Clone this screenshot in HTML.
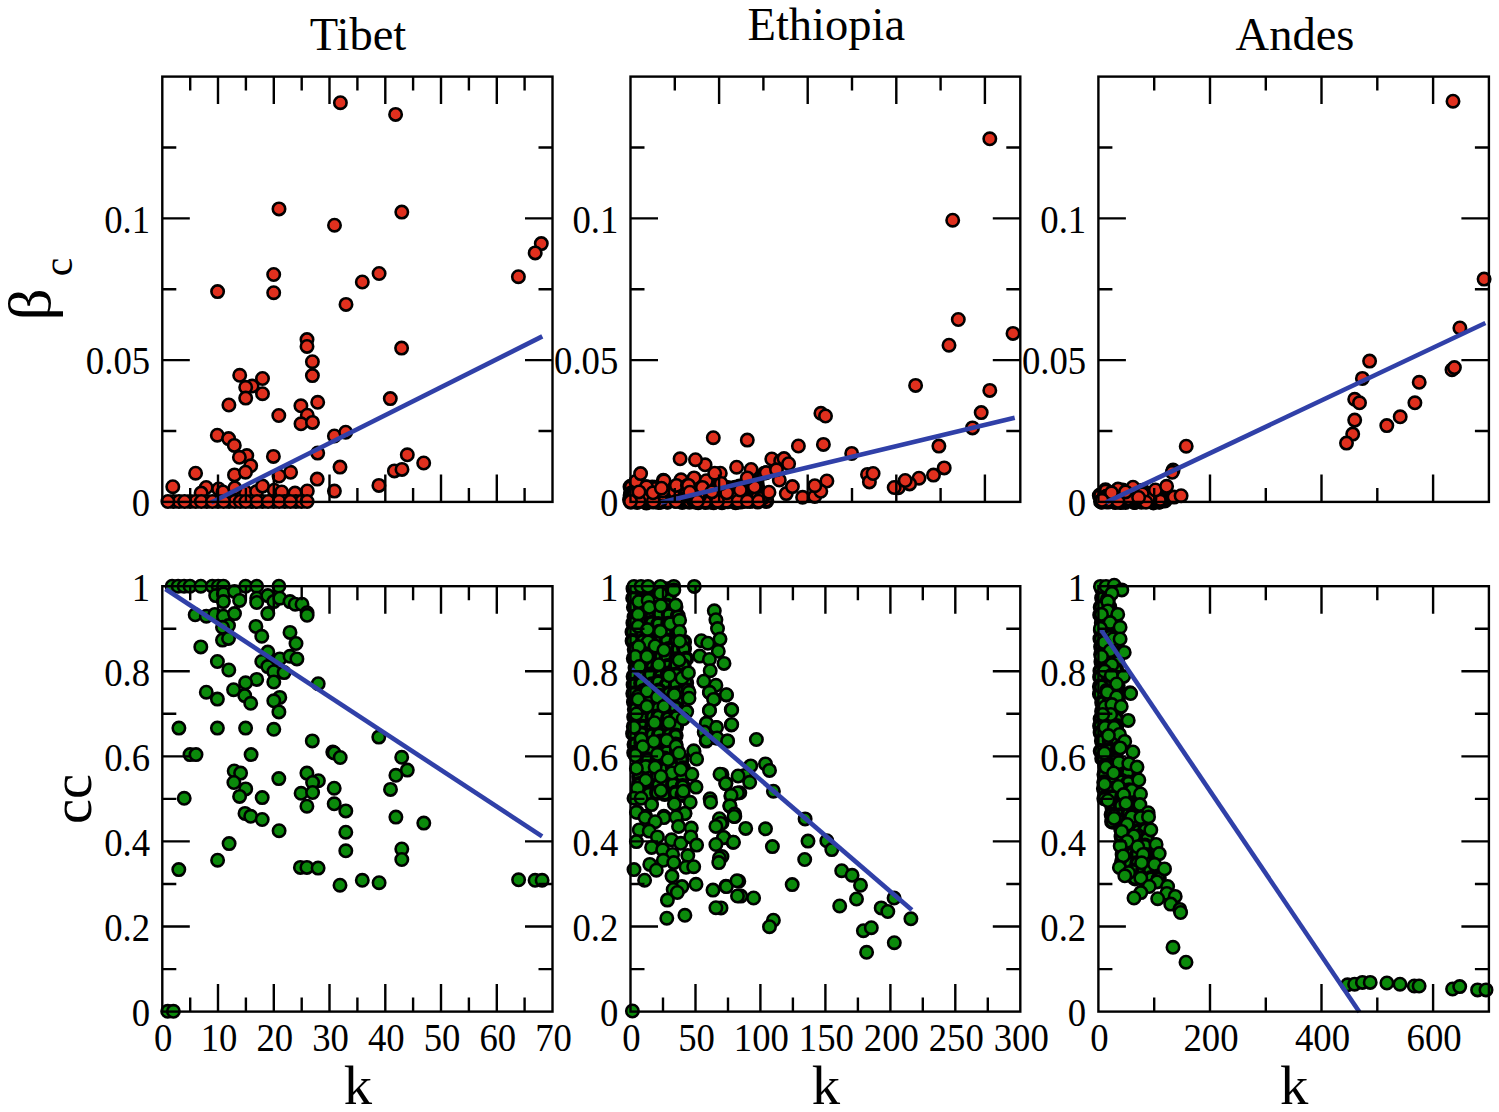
<!DOCTYPE html>
<html><head><meta charset="utf-8"><title>Figure</title>
<style>html,body{margin:0;padding:0;background:#fff;}svg{display:block;}
text{font-family:"Liberation Serif", serif;}</style></head>
<body><svg width="1499" height="1112" viewBox="0 0 1499 1112">
<rect width="100%" height="100%" fill="#fff"/>
<g fill="#e0301e" stroke="#000" stroke-width="2.6"><circle cx="340.4" cy="102.7" r="6.2"/><circle cx="395.6" cy="114.4" r="6.2"/><circle cx="279.0" cy="208.9" r="6.2"/><circle cx="401.8" cy="212.1" r="6.2"/><circle cx="334.5" cy="225.2" r="6.2"/><circle cx="541.3" cy="243.6" r="6.2"/><circle cx="535.2" cy="252.9" r="6.2"/><circle cx="518.4" cy="276.7" r="6.2"/><circle cx="379.1" cy="273.5" r="6.2"/><circle cx="362.3" cy="282.0" r="6.2"/><circle cx="273.7" cy="274.5" r="6.2"/><circle cx="273.7" cy="292.7" r="6.2"/><circle cx="217.6" cy="291.6" r="6.2"/><circle cx="346.0" cy="304.4" r="6.2"/><circle cx="307.0" cy="339.6" r="6.2"/><circle cx="307.0" cy="346.4" r="6.2"/><circle cx="312.4" cy="361.7" r="6.2"/><circle cx="312.4" cy="375.6" r="6.2"/><circle cx="401.6" cy="348.1" r="6.2"/><circle cx="239.7" cy="375.3" r="6.2"/><circle cx="252.1" cy="386.1" r="6.2"/><circle cx="262.5" cy="378.5" r="6.2"/><circle cx="245.7" cy="387.3" r="6.2"/><circle cx="262.5" cy="393.7" r="6.2"/><circle cx="245.7" cy="398.1" r="6.2"/><circle cx="228.9" cy="405.0" r="6.2"/><circle cx="390.3" cy="398.6" r="6.2"/><circle cx="317.7" cy="402.3" r="6.2"/><circle cx="300.9" cy="405.8" r="6.2"/><circle cx="278.8" cy="415.5" r="6.2"/><circle cx="307.3" cy="415.2" r="6.2"/><circle cx="301.0" cy="423.8" r="6.2"/><circle cx="312.5" cy="422.4" r="6.2"/><circle cx="217.3" cy="435.2" r="6.2"/><circle cx="228.6" cy="438.6" r="6.2"/><circle cx="234.3" cy="445.4" r="6.2"/><circle cx="246.8" cy="455.6" r="6.2"/><circle cx="239.4" cy="457.3" r="6.2"/><circle cx="250.7" cy="465.8" r="6.2"/><circle cx="273.4" cy="456.4" r="6.2"/><circle cx="317.7" cy="453.1" r="6.2"/><circle cx="334.4" cy="436.0" r="6.2"/><circle cx="345.7" cy="432.2" r="6.2"/><circle cx="340.0" cy="467.1" r="6.2"/><circle cx="195.6" cy="473.2" r="6.2"/><circle cx="234.5" cy="474.9" r="6.2"/><circle cx="245.5" cy="472.2" r="6.2"/><circle cx="290.6" cy="472.3" r="6.2"/><circle cx="279.0" cy="476.0" r="6.2"/><circle cx="317.2" cy="479.1" r="6.2"/><circle cx="378.9" cy="485.4" r="6.2"/><circle cx="394.4" cy="470.9" r="6.2"/><circle cx="402.0" cy="469.4" r="6.2"/><circle cx="407.3" cy="454.8" r="6.2"/><circle cx="423.7" cy="463.0" r="6.2"/><circle cx="334.4" cy="491.1" r="6.2"/><circle cx="172.8" cy="486.7" r="6.2"/><circle cx="206.2" cy="487.5" r="6.2"/><circle cx="201.1" cy="493.1" r="6.2"/><circle cx="218.6" cy="489.0" r="6.2"/><circle cx="223.0" cy="492.0" r="6.2"/><circle cx="245.4" cy="492.0" r="6.2"/><circle cx="256.6" cy="491.5" r="6.2"/><circle cx="262.5" cy="486.1" r="6.2"/><circle cx="274.2" cy="490.2" r="6.2"/><circle cx="281.7" cy="492.0" r="6.2"/><circle cx="295.0" cy="493.1" r="6.2"/><circle cx="307.3" cy="491.0" r="6.2"/><circle cx="234.8" cy="488.0" r="6.2"/><circle cx="173.4" cy="501.5" r="6.2"/><circle cx="179.0" cy="501.5" r="6.2"/><circle cx="190.1" cy="501.5" r="6.2"/><circle cx="195.7" cy="501.5" r="6.2"/><circle cx="206.8" cy="501.5" r="6.2"/><circle cx="218.0" cy="501.5" r="6.2"/><circle cx="229.1" cy="501.5" r="6.2"/><circle cx="234.7" cy="501.5" r="6.2"/><circle cx="240.3" cy="501.5" r="6.2"/><circle cx="251.4" cy="501.5" r="6.2"/><circle cx="262.5" cy="501.5" r="6.2"/><circle cx="273.7" cy="501.5" r="6.2"/><circle cx="284.8" cy="501.5" r="6.2"/><circle cx="295.9" cy="501.5" r="6.2"/><circle cx="301.5" cy="501.5" r="6.2"/><circle cx="167.9" cy="501.5" r="6.2"/><circle cx="184.6" cy="501.5" r="6.2"/><circle cx="201.3" cy="501.5" r="6.2"/><circle cx="212.4" cy="501.5" r="6.2"/><circle cx="223.6" cy="501.5" r="6.2"/><circle cx="245.8" cy="501.5" r="6.2"/><circle cx="257.0" cy="501.5" r="6.2"/><circle cx="268.1" cy="501.5" r="6.2"/><circle cx="279.2" cy="501.5" r="6.2"/><circle cx="290.4" cy="501.5" r="6.2"/><circle cx="307.1" cy="501.5" r="6.2"/></g>
<g fill="#e0301e" stroke="#000" stroke-width="4.0"><circle cx="630.5" cy="486.8" r="6.0"/><circle cx="639.0" cy="486.6" r="6.0"/><circle cx="646.1" cy="487.2" r="6.0"/><circle cx="652.2" cy="487.5" r="6.0"/><circle cx="659.6" cy="487.4" r="6.0"/><circle cx="667.2" cy="486.7" r="6.0"/><circle cx="675.8" cy="488.2" r="6.0"/><circle cx="682.4" cy="486.9" r="6.0"/><circle cx="691.4" cy="488.4" r="6.0"/><circle cx="698.7" cy="487.3" r="6.0"/><circle cx="707.4" cy="486.6" r="6.0"/><circle cx="714.6" cy="487.1" r="6.0"/><circle cx="719.9" cy="486.7" r="6.0"/><circle cx="727.9" cy="488.1" r="6.0"/><circle cx="735.0" cy="487.7" r="6.0"/><circle cx="743.9" cy="487.2" r="6.0"/><circle cx="631.1" cy="493.6" r="6.0"/><circle cx="637.2" cy="493.9" r="6.0"/><circle cx="646.5" cy="494.4" r="6.0"/><circle cx="652.9" cy="494.7" r="6.0"/><circle cx="660.9" cy="494.1" r="6.0"/><circle cx="669.4" cy="494.9" r="6.0"/><circle cx="675.2" cy="494.6" r="6.0"/><circle cx="683.6" cy="495.3" r="6.0"/><circle cx="691.7" cy="494.1" r="6.0"/><circle cx="699.9" cy="493.7" r="6.0"/><circle cx="705.8" cy="495.0" r="6.0"/><circle cx="712.5" cy="494.5" r="6.0"/><circle cx="719.6" cy="494.8" r="6.0"/><circle cx="729.3" cy="494.6" r="6.0"/><circle cx="737.1" cy="494.1" r="6.0"/><circle cx="744.1" cy="494.7" r="6.0"/><circle cx="751.2" cy="494.4" r="6.0"/><circle cx="759.5" cy="495.4" r="6.0"/><circle cx="630.9" cy="501.8" r="6.0"/><circle cx="637.2" cy="501.9" r="6.0"/><circle cx="646.4" cy="502.5" r="6.0"/><circle cx="654.5" cy="501.1" r="6.0"/><circle cx="660.7" cy="501.8" r="6.0"/><circle cx="667.1" cy="501.4" r="6.0"/><circle cx="675.0" cy="500.7" r="6.0"/><circle cx="682.2" cy="502.0" r="6.0"/><circle cx="689.9" cy="501.0" r="6.0"/><circle cx="698.2" cy="502.2" r="6.0"/><circle cx="704.7" cy="501.4" r="6.0"/><circle cx="713.6" cy="502.3" r="6.0"/><circle cx="722.0" cy="502.2" r="6.0"/><circle cx="727.8" cy="501.3" r="6.0"/><circle cx="735.6" cy="502.3" r="6.0"/><circle cx="744.9" cy="500.8" r="6.0"/><circle cx="750.0" cy="501.0" r="6.0"/><circle cx="757.7" cy="501.5" r="6.0"/><circle cx="766.3" cy="501.0" r="6.0"/><circle cx="630.6" cy="495.3" r="6.0"/><circle cx="706.5" cy="498.3" r="6.0"/><circle cx="758.7" cy="498.5" r="6.0"/><circle cx="713.4" cy="493.0" r="6.0"/><circle cx="721.3" cy="485.8" r="6.0"/><circle cx="735.3" cy="496.3" r="6.0"/><circle cx="748.1" cy="499.6" r="6.0"/><circle cx="683.9" cy="494.4" r="6.0"/><circle cx="644.0" cy="500.1" r="6.0"/><circle cx="639.1" cy="499.9" r="6.0"/><circle cx="658.2" cy="498.2" r="6.0"/><circle cx="637.1" cy="495.8" r="6.0"/><circle cx="630.0" cy="499.8" r="6.0"/><circle cx="679.1" cy="499.0" r="6.0"/><circle cx="633.4" cy="494.2" r="6.0"/><circle cx="650.1" cy="494.2" r="6.0"/><circle cx="664.1" cy="497.6" r="6.0"/><circle cx="646.6" cy="495.8" r="6.0"/><circle cx="744.6" cy="493.0" r="6.0"/><circle cx="695.3" cy="501.6" r="6.0"/><circle cx="641.6" cy="496.1" r="6.0"/><circle cx="665.7" cy="497.6" r="6.0"/><circle cx="741.9" cy="501.1" r="6.0"/><circle cx="758.4" cy="500.5" r="6.0"/><circle cx="701.3" cy="495.9" r="6.0"/><circle cx="633.7" cy="494.0" r="6.0"/><circle cx="701.3" cy="486.2" r="6.0"/><circle cx="724.0" cy="499.9" r="6.0"/><circle cx="665.3" cy="498.8" r="6.0"/><circle cx="734.2" cy="498.4" r="6.0"/><circle cx="701.9" cy="500.7" r="6.0"/><circle cx="660.1" cy="495.0" r="6.0"/><circle cx="739.6" cy="486.4" r="6.0"/><circle cx="738.8" cy="500.5" r="6.0"/><circle cx="740.5" cy="501.6" r="6.0"/><circle cx="699.9" cy="496.3" r="6.0"/><circle cx="678.0" cy="500.1" r="6.0"/><circle cx="667.7" cy="501.7" r="6.0"/><circle cx="665.0" cy="494.9" r="6.0"/><circle cx="690.4" cy="483.3" r="6.0"/><circle cx="756.5" cy="482.1" r="6.0"/><circle cx="679.2" cy="500.5" r="6.0"/><circle cx="659.8" cy="501.2" r="6.0"/><circle cx="657.6" cy="496.8" r="6.0"/><circle cx="714.2" cy="489.6" r="6.0"/><circle cx="694.7" cy="493.0" r="6.0"/><circle cx="718.2" cy="501.0" r="6.0"/><circle cx="719.2" cy="498.8" r="6.0"/><circle cx="752.8" cy="499.3" r="6.0"/><circle cx="694.5" cy="488.9" r="6.0"/><circle cx="654.1" cy="500.2" r="6.0"/><circle cx="738.1" cy="495.0" r="6.0"/><circle cx="761.2" cy="495.6" r="6.0"/><circle cx="757.8" cy="497.1" r="6.0"/><circle cx="727.8" cy="500.0" r="6.0"/><circle cx="650.4" cy="498.3" r="6.0"/><circle cx="752.2" cy="500.4" r="6.0"/><circle cx="741.6" cy="497.8" r="6.0"/><circle cx="762.3" cy="497.9" r="6.0"/><circle cx="704.1" cy="495.8" r="6.0"/><circle cx="647.7" cy="488.5" r="6.0"/><circle cx="701.1" cy="500.1" r="6.0"/><circle cx="756.0" cy="487.2" r="6.0"/><circle cx="741.5" cy="495.4" r="6.0"/><circle cx="658.5" cy="501.9" r="6.0"/><circle cx="662.5" cy="495.3" r="6.0"/><circle cx="709.2" cy="501.5" r="6.0"/><circle cx="647.7" cy="493.7" r="6.0"/><circle cx="752.9" cy="496.6" r="6.0"/><circle cx="708.8" cy="495.0" r="6.0"/><circle cx="752.1" cy="486.3" r="6.0"/><circle cx="697.7" cy="493.4" r="6.0"/><circle cx="701.8" cy="500.5" r="6.0"/><circle cx="689.4" cy="501.8" r="6.0"/><circle cx="654.7" cy="487.7" r="6.0"/><circle cx="653.3" cy="501.6" r="6.0"/><circle cx="693.9" cy="500.4" r="6.0"/><circle cx="674.0" cy="491.9" r="6.0"/><circle cx="700.0" cy="488.8" r="6.0"/><circle cx="644.3" cy="497.2" r="6.0"/><circle cx="705.6" cy="501.9" r="6.0"/><circle cx="734.3" cy="495.6" r="6.0"/><circle cx="698.5" cy="489.5" r="6.0"/><circle cx="753.2" cy="496.9" r="6.0"/><circle cx="689.8" cy="494.8" r="6.0"/><circle cx="699.1" cy="495.8" r="6.0"/><circle cx="723.5" cy="492.6" r="6.0"/><circle cx="694.5" cy="499.1" r="6.0"/><circle cx="757.1" cy="496.9" r="6.0"/><circle cx="757.2" cy="486.5" r="6.0"/></g>
<g fill="#e0301e" stroke="#000" stroke-width="2.6"><circle cx="771.8" cy="459.0" r="6.2"/><circle cx="653.2" cy="501.2" r="6.2"/><circle cx="726.3" cy="501.2" r="6.2"/><circle cx="694.1" cy="477.9" r="6.2"/><circle cx="635.8" cy="481.4" r="6.2"/><circle cx="676.0" cy="501.5" r="6.2"/><circle cx="702.5" cy="487.2" r="6.2"/><circle cx="826.9" cy="481.0" r="6.2"/><circle cx="681.0" cy="479.8" r="6.2"/><circle cx="760.6" cy="498.7" r="6.2"/><circle cx="717.5" cy="501.2" r="6.2"/><circle cx="690.4" cy="492.8" r="6.2"/><circle cx="639.1" cy="501.2" r="6.2"/><circle cx="680.1" cy="458.8" r="6.2"/><circle cx="738.0" cy="501.2" r="6.2"/><circle cx="663.3" cy="480.2" r="6.2"/><circle cx="676.4" cy="485.4" r="6.2"/><circle cx="662.8" cy="491.0" r="6.2"/><circle cx="736.6" cy="467.2" r="6.2"/><circle cx="764.2" cy="473.2" r="6.2"/><circle cx="755.0" cy="486.6" r="6.2"/><circle cx="664.0" cy="480.8" r="6.2"/><circle cx="726.8" cy="492.8" r="6.2"/><circle cx="720.3" cy="473.2" r="6.2"/><circle cx="779.3" cy="480.0" r="6.2"/><circle cx="706.3" cy="480.7" r="6.2"/><circle cx="646.5" cy="486.8" r="6.2"/><circle cx="687.4" cy="485.6" r="6.2"/><circle cx="754.4" cy="486.8" r="6.2"/><circle cx="688.5" cy="485.4" r="6.2"/><circle cx="802.6" cy="497.3" r="6.2"/><circle cx="740.3" cy="490.0" r="6.2"/><circle cx="780.7" cy="460.9" r="6.2"/><circle cx="702.4" cy="487.4" r="6.2"/><circle cx="639.0" cy="491.9" r="6.2"/><circle cx="689.8" cy="492.2" r="6.2"/><circle cx="769.0" cy="492.2" r="6.2"/><circle cx="721.2" cy="483.5" r="6.2"/><circle cx="786.3" cy="493.6" r="6.2"/><circle cx="814.8" cy="496.4" r="6.2"/><circle cx="784.0" cy="458.6" r="6.2"/><circle cx="788.6" cy="463.7" r="6.2"/><circle cx="747.3" cy="501.2" r="6.2"/><circle cx="705.1" cy="464.8" r="6.2"/><circle cx="640.6" cy="473.6" r="6.2"/><circle cx="714.7" cy="473.2" r="6.2"/><circle cx="758.6" cy="501.2" r="6.2"/><circle cx="751.1" cy="469.5" r="6.2"/><circle cx="653.0" cy="492.8" r="6.2"/><circle cx="711.9" cy="491.9" r="6.2"/><circle cx="792.4" cy="486.6" r="6.2"/><circle cx="766.2" cy="472.6" r="6.2"/><circle cx="630.5" cy="501.5" r="6.2"/><circle cx="747.3" cy="477.9" r="6.2"/><circle cx="661.4" cy="488.2" r="6.2"/><circle cx="776.5" cy="469.8" r="6.2"/><circle cx="820.8" cy="491.3" r="6.2"/><circle cx="814.8" cy="485.7" r="6.2"/><circle cx="695.5" cy="459.7" r="6.2"/><circle cx="697.4" cy="501.2" r="6.2"/><circle cx="989.8" cy="138.8" r="6.2"/><circle cx="952.7" cy="220.2" r="6.2"/><circle cx="958.3" cy="319.5" r="6.2"/><circle cx="1013.0" cy="333.4" r="6.2"/><circle cx="949.0" cy="345.2" r="6.2"/><circle cx="915.6" cy="385.4" r="6.2"/><circle cx="989.8" cy="390.4" r="6.2"/><circle cx="820.9" cy="413.3" r="6.2"/><circle cx="825.5" cy="416.0" r="6.2"/><circle cx="981.2" cy="412.6" r="6.2"/><circle cx="972.5" cy="427.9" r="6.2"/><circle cx="938.9" cy="446.1" r="6.2"/><circle cx="944.2" cy="467.9" r="6.2"/><circle cx="933.5" cy="475.1" r="6.2"/><circle cx="919.0" cy="478.2" r="6.2"/><circle cx="898.3" cy="487.7" r="6.2"/><circle cx="909.6" cy="483.9" r="6.2"/><circle cx="905.2" cy="480.5" r="6.2"/><circle cx="798.4" cy="446.0" r="6.2"/><circle cx="823.4" cy="444.4" r="6.2"/><circle cx="851.7" cy="453.4" r="6.2"/><circle cx="867.5" cy="474.4" r="6.2"/><circle cx="869.4" cy="481.9" r="6.2"/><circle cx="873.1" cy="473.5" r="6.2"/><circle cx="894.2" cy="487.5" r="6.2"/><circle cx="713.3" cy="437.7" r="6.2"/><circle cx="747.3" cy="440.1" r="6.2"/></g>
<g fill="#e0301e" stroke="#000" stroke-width="4.0"><circle cx="1099.8" cy="495.6" r="6.0"/><circle cx="1106.4" cy="495.2" r="6.0"/><circle cx="1113.7" cy="494.6" r="6.0"/><circle cx="1120.9" cy="494.2" r="6.0"/><circle cx="1128.4" cy="495.7" r="6.0"/><circle cx="1132.5" cy="495.8" r="6.0"/><circle cx="1140.9" cy="495.2" r="6.0"/><circle cx="1147.3" cy="495.4" r="6.0"/><circle cx="1153.0" cy="494.6" r="6.0"/><circle cx="1159.9" cy="494.3" r="6.0"/><circle cx="1167.0" cy="495.4" r="6.0"/><circle cx="1101.0" cy="501.4" r="6.0"/><circle cx="1108.1" cy="501.5" r="6.0"/><circle cx="1115.2" cy="502.0" r="6.0"/><circle cx="1120.7" cy="502.1" r="6.0"/><circle cx="1125.5" cy="501.9" r="6.0"/><circle cx="1134.4" cy="501.9" r="6.0"/><circle cx="1141.4" cy="501.8" r="6.0"/><circle cx="1145.3" cy="500.6" r="6.0"/><circle cx="1153.4" cy="502.4" r="6.0"/><circle cx="1159.1" cy="501.4" r="6.0"/><circle cx="1164.7" cy="500.5" r="6.0"/><circle cx="1135.0" cy="501.8" r="6.0"/><circle cx="1130.2" cy="497.3" r="6.0"/><circle cx="1105.5" cy="490.3" r="6.0"/><circle cx="1106.9" cy="496.7" r="6.0"/><circle cx="1134.7" cy="501.8" r="6.0"/><circle cx="1152.8" cy="495.2" r="6.0"/><circle cx="1155.2" cy="501.0" r="6.0"/><circle cx="1115.8" cy="492.0" r="6.0"/><circle cx="1142.6" cy="490.8" r="6.0"/><circle cx="1105.9" cy="499.1" r="6.0"/><circle cx="1159.3" cy="501.6" r="6.0"/><circle cx="1141.5" cy="500.2" r="6.0"/><circle cx="1113.7" cy="497.6" r="6.0"/><circle cx="1142.7" cy="498.8" r="6.0"/><circle cx="1145.3" cy="499.7" r="6.0"/><circle cx="1131.9" cy="499.8" r="6.0"/><circle cx="1132.1" cy="499.3" r="6.0"/><circle cx="1114.9" cy="501.5" r="6.0"/><circle cx="1132.3" cy="500.7" r="6.0"/><circle cx="1130.8" cy="497.2" r="6.0"/><circle cx="1150.1" cy="494.4" r="6.0"/><circle cx="1120.9" cy="501.7" r="6.0"/><circle cx="1106.5" cy="497.1" r="6.0"/><circle cx="1105.9" cy="501.2" r="6.0"/><circle cx="1133.4" cy="489.1" r="6.0"/><circle cx="1159.7" cy="501.4" r="6.0"/><circle cx="1160.6" cy="499.7" r="6.0"/><circle cx="1148.8" cy="500.8" r="6.0"/><circle cx="1117.8" cy="496.8" r="6.0"/><circle cx="1141.4" cy="495.7" r="6.0"/><circle cx="1118.9" cy="497.7" r="6.0"/><circle cx="1132.9" cy="498.3" r="6.0"/><circle cx="1157.1" cy="499.2" r="6.0"/><circle cx="1161.8" cy="499.8" r="6.0"/><circle cx="1144.6" cy="494.0" r="6.0"/><circle cx="1127.6" cy="496.6" r="6.0"/><circle cx="1125.1" cy="498.1" r="6.0"/><circle cx="1121.8" cy="498.3" r="6.0"/><circle cx="1122.6" cy="490.6" r="6.0"/><circle cx="1113.5" cy="493.5" r="6.0"/><circle cx="1101.8" cy="501.7" r="6.0"/><circle cx="1105.2" cy="497.4" r="6.0"/><circle cx="1126.0" cy="500.4" r="6.0"/><circle cx="1160.2" cy="500.3" r="6.0"/><circle cx="1149.4" cy="499.0" r="6.0"/></g>
<g fill="#e0301e" stroke="#000" stroke-width="2.6"><circle cx="1133.0" cy="487.2" r="6.2"/><circle cx="1149.8" cy="497.1" r="6.2"/><circle cx="1155.4" cy="490.0" r="6.2"/><circle cx="1118.0" cy="489.1" r="6.2"/><circle cx="1174.1" cy="497.1" r="6.2"/><circle cx="1128.3" cy="498.5" r="6.2"/><circle cx="1142.3" cy="493.8" r="6.2"/><circle cx="1181.1" cy="495.7" r="6.2"/><circle cx="1107.7" cy="500.3" r="6.2"/><circle cx="1146.0" cy="502.2" r="6.2"/><circle cx="1138.6" cy="497.5" r="6.2"/><circle cx="1118.0" cy="501.3" r="6.2"/><circle cx="1125.5" cy="491.9" r="6.2"/><circle cx="1166.6" cy="486.3" r="6.2"/><circle cx="1111.5" cy="492.8" r="6.2"/><circle cx="1102.0" cy="500.3" r="6.2"/><circle cx="1453.0" cy="101.2" r="6.2"/><circle cx="1484.1" cy="279.1" r="6.2"/><circle cx="1459.9" cy="328.0" r="6.2"/><circle cx="1369.6" cy="361.1" r="6.2"/><circle cx="1362.4" cy="378.4" r="6.2"/><circle cx="1452.0" cy="369.8" r="6.2"/><circle cx="1454.4" cy="367.6" r="6.2"/><circle cx="1419.2" cy="382.3" r="6.2"/><circle cx="1354.7" cy="399.3" r="6.2"/><circle cx="1359.5" cy="402.8" r="6.2"/><circle cx="1414.9" cy="402.8" r="6.2"/><circle cx="1400.2" cy="416.8" r="6.2"/><circle cx="1386.8" cy="425.6" r="6.2"/><circle cx="1354.7" cy="420.1" r="6.2"/><circle cx="1352.7" cy="434.1" r="6.2"/><circle cx="1346.5" cy="443.1" r="6.2"/><circle cx="1186.2" cy="446.2" r="6.2"/><circle cx="1173.1" cy="470.0" r="6.2"/><circle cx="1172.2" cy="472.3" r="6.2"/></g>
<g fill="#0b8a0b" stroke="#000" stroke-width="2.6"><circle cx="172.1" cy="586.2" r="6.2"/><circle cx="178.1" cy="586.2" r="6.2"/><circle cx="184.1" cy="586.2" r="6.2"/><circle cx="190.0" cy="586.2" r="6.2"/><circle cx="200.8" cy="586.2" r="6.2"/><circle cx="212.3" cy="586.2" r="6.2"/><circle cx="218.2" cy="586.2" r="6.2"/><circle cx="223.4" cy="586.2" r="6.2"/><circle cx="245.6" cy="586.2" r="6.2"/><circle cx="256.7" cy="586.2" r="6.2"/><circle cx="278.9" cy="586.2" r="6.2"/><circle cx="215.7" cy="595.6" r="6.2"/><circle cx="223.4" cy="593.9" r="6.2"/><circle cx="223.4" cy="601.6" r="6.2"/><circle cx="234.5" cy="591.4" r="6.2"/><circle cx="239.6" cy="600.4" r="6.2"/><circle cx="256.7" cy="598.2" r="6.2"/><circle cx="256.7" cy="602.5" r="6.2"/><circle cx="267.8" cy="595.6" r="6.2"/><circle cx="273.8" cy="601.6" r="6.2"/><circle cx="279.8" cy="598.2" r="6.2"/><circle cx="290.0" cy="601.6" r="6.2"/><circle cx="295.2" cy="604.2" r="6.2"/><circle cx="302.0" cy="604.2" r="6.2"/><circle cx="307.1" cy="612.7" r="6.2"/><circle cx="307.1" cy="615.3" r="6.2"/><circle cx="195.2" cy="614.8" r="6.2"/><circle cx="206.3" cy="616.2" r="6.2"/><circle cx="214.8" cy="614.4" r="6.2"/><circle cx="223.4" cy="616.2" r="6.2"/><circle cx="234.5" cy="613.6" r="6.2"/><circle cx="267.8" cy="613.6" r="6.2"/><circle cx="228.5" cy="625.6" r="6.2"/><circle cx="222.5" cy="627.3" r="6.2"/><circle cx="255.9" cy="626.4" r="6.2"/><circle cx="261.8" cy="636.3" r="6.2"/><circle cx="290.0" cy="632.4" r="6.2"/><circle cx="296.0" cy="643.5" r="6.2"/><circle cx="222.5" cy="640.1" r="6.2"/><circle cx="228.5" cy="638.4" r="6.2"/><circle cx="200.8" cy="646.9" r="6.2"/><circle cx="217.4" cy="661.5" r="6.2"/><circle cx="228.8" cy="670.0" r="6.2"/><circle cx="267.8" cy="652.1" r="6.2"/><circle cx="261.8" cy="661.5" r="6.2"/><circle cx="279.8" cy="658.9" r="6.2"/><circle cx="290.0" cy="656.3" r="6.2"/><circle cx="296.9" cy="658.9" r="6.2"/><circle cx="267.8" cy="666.6" r="6.2"/><circle cx="273.8" cy="671.7" r="6.2"/><circle cx="284.1" cy="672.6" r="6.2"/><circle cx="273.8" cy="682.0" r="6.2"/><circle cx="256.7" cy="679.4" r="6.2"/><circle cx="245.6" cy="682.8" r="6.2"/><circle cx="233.6" cy="689.7" r="6.2"/><circle cx="244.7" cy="695.6" r="6.2"/><circle cx="250.7" cy="703.3" r="6.2"/><circle cx="206.3" cy="692.2" r="6.2"/><circle cx="217.4" cy="699.1" r="6.2"/><circle cx="279.8" cy="697.4" r="6.2"/><circle cx="273.8" cy="700.8" r="6.2"/><circle cx="278.9" cy="711.9" r="6.2"/><circle cx="318.2" cy="683.7" r="6.2"/><circle cx="178.9" cy="728.1" r="6.2"/><circle cx="217.4" cy="728.1" r="6.2"/><circle cx="245.6" cy="728.1" r="6.2"/><circle cx="273.8" cy="729.3" r="6.2"/><circle cx="312.3" cy="740.9" r="6.2"/><circle cx="332.8" cy="752.1" r="6.2"/><circle cx="334.2" cy="753.0" r="6.2"/><circle cx="340.2" cy="757.5" r="6.2"/><circle cx="190.0" cy="754.6" r="6.2"/><circle cx="196.0" cy="754.6" r="6.2"/><circle cx="251.1" cy="754.6" r="6.2"/><circle cx="378.8" cy="737.1" r="6.2"/><circle cx="401.7" cy="757.3" r="6.2"/><circle cx="407.3" cy="770.1" r="6.2"/><circle cx="395.9" cy="775.3" r="6.2"/><circle cx="390.5" cy="789.4" r="6.2"/><circle cx="234.2" cy="771.0" r="6.2"/><circle cx="240.6" cy="773.1" r="6.2"/><circle cx="233.9" cy="782.5" r="6.2"/><circle cx="245.7" cy="788.9" r="6.2"/><circle cx="239.6" cy="796.4" r="6.2"/><circle cx="278.8" cy="778.6" r="6.2"/><circle cx="262.2" cy="797.6" r="6.2"/><circle cx="306.9" cy="773.1" r="6.2"/><circle cx="318.4" cy="780.7" r="6.2"/><circle cx="312.6" cy="782.5" r="6.2"/><circle cx="301.1" cy="793.3" r="6.2"/><circle cx="312.6" cy="792.5" r="6.2"/><circle cx="306.9" cy="806.2" r="6.2"/><circle cx="334.2" cy="788.2" r="6.2"/><circle cx="334.2" cy="803.8" r="6.2"/><circle cx="345.8" cy="810.9" r="6.2"/><circle cx="184.2" cy="798.3" r="6.2"/><circle cx="245.0" cy="813.4" r="6.2"/><circle cx="250.7" cy="816.3" r="6.2"/><circle cx="262.2" cy="819.5" r="6.2"/><circle cx="279.1" cy="830.7" r="6.2"/><circle cx="229.1" cy="843.6" r="6.2"/><circle cx="217.6" cy="860.2" r="6.2"/><circle cx="178.8" cy="869.6" r="6.2"/><circle cx="300.4" cy="867.4" r="6.2"/><circle cx="306.9" cy="867.4" r="6.2"/><circle cx="318.1" cy="868.1" r="6.2"/><circle cx="345.8" cy="832.2" r="6.2"/><circle cx="345.8" cy="850.8" r="6.2"/><circle cx="340.0" cy="885.2" r="6.2"/><circle cx="395.9" cy="817.1" r="6.2"/><circle cx="423.8" cy="823.1" r="6.2"/><circle cx="401.8" cy="849.0" r="6.2"/><circle cx="401.8" cy="859.5" r="6.2"/><circle cx="362.3" cy="880.3" r="6.2"/><circle cx="379.1" cy="882.7" r="6.2"/><circle cx="518.6" cy="879.8" r="6.2"/><circle cx="535.1" cy="880.3" r="6.2"/><circle cx="542.1" cy="880.3" r="6.2"/><circle cx="167.7" cy="1011.3" r="6.2"/><circle cx="173.4" cy="1011.3" r="6.2"/></g>
<g fill="#0b8a0b" stroke="#000" stroke-width="4.0"><circle cx="633.5" cy="588.7" r="6.0"/><circle cx="641.8" cy="591.4" r="6.0"/><circle cx="649.9" cy="590.0" r="6.0"/><circle cx="659.9" cy="591.1" r="6.0"/><circle cx="667.1" cy="589.3" r="6.0"/><circle cx="633.2" cy="598.2" r="6.0"/><circle cx="642.3" cy="599.9" r="6.0"/><circle cx="652.0" cy="599.6" r="6.0"/><circle cx="658.1" cy="597.1" r="6.0"/><circle cx="668.6" cy="599.7" r="6.0"/><circle cx="633.9" cy="607.3" r="6.0"/><circle cx="641.0" cy="606.7" r="6.0"/><circle cx="652.3" cy="608.0" r="6.0"/><circle cx="660.6" cy="608.4" r="6.0"/><circle cx="667.2" cy="605.8" r="6.0"/><circle cx="675.5" cy="607.1" r="6.0"/><circle cx="634.5" cy="616.8" r="6.0"/><circle cx="643.2" cy="615.9" r="6.0"/><circle cx="651.8" cy="615.4" r="6.0"/><circle cx="659.7" cy="614.1" r="6.0"/><circle cx="668.8" cy="614.7" r="6.0"/><circle cx="677.8" cy="615.9" r="6.0"/><circle cx="633.4" cy="622.9" r="6.0"/><circle cx="641.8" cy="624.4" r="6.0"/><circle cx="651.6" cy="622.8" r="6.0"/><circle cx="658.2" cy="624.1" r="6.0"/><circle cx="668.2" cy="623.7" r="6.0"/><circle cx="675.7" cy="624.3" r="6.0"/><circle cx="632.5" cy="631.9" r="6.0"/><circle cx="642.4" cy="633.9" r="6.0"/><circle cx="651.4" cy="633.7" r="6.0"/><circle cx="659.4" cy="631.7" r="6.0"/><circle cx="667.2" cy="633.9" r="6.0"/><circle cx="677.1" cy="631.9" r="6.0"/><circle cx="632.6" cy="641.0" r="6.0"/><circle cx="643.0" cy="640.8" r="6.0"/><circle cx="650.3" cy="641.5" r="6.0"/><circle cx="660.8" cy="640.2" r="6.0"/><circle cx="666.6" cy="640.5" r="6.0"/><circle cx="676.3" cy="641.5" r="6.0"/><circle cx="684.1" cy="641.9" r="6.0"/><circle cx="634.7" cy="649.5" r="6.0"/><circle cx="641.6" cy="650.9" r="6.0"/><circle cx="650.4" cy="650.5" r="6.0"/><circle cx="658.7" cy="648.7" r="6.0"/><circle cx="668.8" cy="648.9" r="6.0"/><circle cx="677.9" cy="649.5" r="6.0"/><circle cx="684.1" cy="648.7" r="6.0"/><circle cx="633.8" cy="658.5" r="6.0"/><circle cx="643.8" cy="656.9" r="6.0"/><circle cx="650.7" cy="657.1" r="6.0"/><circle cx="660.9" cy="656.9" r="6.0"/><circle cx="666.7" cy="656.7" r="6.0"/><circle cx="676.2" cy="659.2" r="6.0"/><circle cx="686.2" cy="658.7" r="6.0"/><circle cx="635.5" cy="667.8" r="6.0"/><circle cx="642.0" cy="665.6" r="6.0"/><circle cx="652.3" cy="667.2" r="6.0"/><circle cx="658.1" cy="667.0" r="6.0"/><circle cx="667.6" cy="666.1" r="6.0"/><circle cx="676.0" cy="665.5" r="6.0"/><circle cx="683.5" cy="665.8" r="6.0"/><circle cx="633.6" cy="676.4" r="6.0"/><circle cx="641.4" cy="676.4" r="6.0"/><circle cx="650.1" cy="674.6" r="6.0"/><circle cx="660.5" cy="676.0" r="6.0"/><circle cx="667.8" cy="673.6" r="6.0"/><circle cx="676.4" cy="674.6" r="6.0"/><circle cx="686.3" cy="674.1" r="6.0"/><circle cx="633.6" cy="684.7" r="6.0"/><circle cx="641.1" cy="683.2" r="6.0"/><circle cx="651.9" cy="684.3" r="6.0"/><circle cx="658.1" cy="682.1" r="6.0"/><circle cx="666.7" cy="684.8" r="6.0"/><circle cx="675.8" cy="684.2" r="6.0"/><circle cx="686.2" cy="683.0" r="6.0"/><circle cx="633.3" cy="693.4" r="6.0"/><circle cx="642.9" cy="691.3" r="6.0"/><circle cx="651.6" cy="691.4" r="6.0"/><circle cx="658.8" cy="690.5" r="6.0"/><circle cx="668.8" cy="693.2" r="6.0"/><circle cx="676.9" cy="693.3" r="6.0"/><circle cx="683.6" cy="691.2" r="6.0"/><circle cx="633.9" cy="701.9" r="6.0"/><circle cx="643.9" cy="700.2" r="6.0"/><circle cx="650.3" cy="700.3" r="6.0"/><circle cx="659.5" cy="701.8" r="6.0"/><circle cx="667.0" cy="701.4" r="6.0"/><circle cx="677.2" cy="701.5" r="6.0"/><circle cx="634.8" cy="709.3" r="6.0"/><circle cx="642.0" cy="708.5" r="6.0"/><circle cx="650.6" cy="709.8" r="6.0"/><circle cx="658.2" cy="708.1" r="6.0"/><circle cx="668.8" cy="708.2" r="6.0"/><circle cx="675.2" cy="707.6" r="6.0"/><circle cx="634.2" cy="717.0" r="6.0"/><circle cx="643.9" cy="718.7" r="6.0"/><circle cx="652.5" cy="716.8" r="6.0"/><circle cx="658.3" cy="716.3" r="6.0"/><circle cx="668.0" cy="718.1" r="6.0"/><circle cx="676.3" cy="716.7" r="6.0"/><circle cx="633.8" cy="726.4" r="6.0"/><circle cx="643.0" cy="726.7" r="6.0"/><circle cx="652.0" cy="726.5" r="6.0"/><circle cx="658.4" cy="727.0" r="6.0"/><circle cx="667.4" cy="726.2" r="6.0"/><circle cx="676.1" cy="726.7" r="6.0"/><circle cx="633.1" cy="733.7" r="6.0"/><circle cx="641.7" cy="733.5" r="6.0"/><circle cx="652.2" cy="734.7" r="6.0"/><circle cx="659.0" cy="734.2" r="6.0"/><circle cx="669.5" cy="734.5" r="6.0"/><circle cx="675.7" cy="735.4" r="6.0"/><circle cx="634.5" cy="744.5" r="6.0"/><circle cx="641.3" cy="742.9" r="6.0"/><circle cx="652.0" cy="744.0" r="6.0"/><circle cx="660.7" cy="741.6" r="6.0"/><circle cx="667.4" cy="741.9" r="6.0"/><circle cx="675.6" cy="744.4" r="6.0"/><circle cx="634.2" cy="752.8" r="6.0"/><circle cx="642.1" cy="752.6" r="6.0"/><circle cx="650.8" cy="750.8" r="6.0"/><circle cx="660.3" cy="752.8" r="6.0"/><circle cx="666.8" cy="751.8" r="6.0"/><circle cx="676.9" cy="750.7" r="6.0"/><circle cx="639.6" cy="758.9" r="6.0"/><circle cx="647.6" cy="759.3" r="6.0"/><circle cx="657.3" cy="760.5" r="6.0"/><circle cx="664.6" cy="758.5" r="6.0"/><circle cx="673.5" cy="760.5" r="6.0"/><circle cx="681.6" cy="759.4" r="6.0"/><circle cx="639.1" cy="769.4" r="6.0"/><circle cx="648.6" cy="767.2" r="6.0"/><circle cx="655.8" cy="768.2" r="6.0"/><circle cx="665.7" cy="768.9" r="6.0"/><circle cx="672.8" cy="767.5" r="6.0"/><circle cx="683.1" cy="768.2" r="6.0"/><circle cx="639.3" cy="776.4" r="6.0"/><circle cx="649.9" cy="776.4" r="6.0"/><circle cx="657.2" cy="776.6" r="6.0"/><circle cx="665.2" cy="778.1" r="6.0"/><circle cx="675.5" cy="776.6" r="6.0"/><circle cx="681.6" cy="777.7" r="6.0"/><circle cx="639.1" cy="784.0" r="6.0"/><circle cx="649.7" cy="785.3" r="6.0"/><circle cx="658.0" cy="785.2" r="6.0"/><circle cx="666.6" cy="785.4" r="6.0"/><circle cx="673.0" cy="784.0" r="6.0"/><circle cx="682.7" cy="785.9" r="6.0"/><circle cx="641.2" cy="792.8" r="6.0"/><circle cx="648.9" cy="793.6" r="6.0"/><circle cx="657.0" cy="792.9" r="6.0"/><circle cx="664.8" cy="794.1" r="6.0"/><circle cx="675.3" cy="792.8" r="6.0"/><circle cx="682.5" cy="794.9" r="6.0"/></g>
<g fill="#0b8a0b" stroke="#000" stroke-width="2.6"><circle cx="634.0" cy="586.4" r="6.2"/><circle cx="641.0" cy="586.4" r="6.2"/><circle cx="648.0" cy="586.4" r="6.2"/><circle cx="660.4" cy="586.4" r="6.2"/><circle cx="673.8" cy="586.4" r="6.2"/><circle cx="694.3" cy="586.4" r="6.2"/><circle cx="673.8" cy="589.9" r="6.2"/><circle cx="660.4" cy="593.4" r="6.2"/><circle cx="638.7" cy="601.6" r="6.2"/><circle cx="648.1" cy="600.4" r="6.2"/><circle cx="649.2" cy="607.4" r="6.2"/><circle cx="660.9" cy="605.7" r="6.2"/><circle cx="675.6" cy="605.1" r="6.2"/><circle cx="638.1" cy="614.4" r="6.2"/><circle cx="670.3" cy="623.8" r="6.2"/><circle cx="679.6" cy="620.3" r="6.2"/><circle cx="638.1" cy="626.1" r="6.2"/><circle cx="647.5" cy="629.6" r="6.2"/><circle cx="660.4" cy="631.4" r="6.2"/><circle cx="679.6" cy="631.4" r="6.2"/><circle cx="648.1" cy="641.9" r="6.2"/><circle cx="638.7" cy="646.6" r="6.2"/><circle cx="655.1" cy="646.0" r="6.2"/><circle cx="663.9" cy="650.1" r="6.2"/><circle cx="679.6" cy="641.3" r="6.2"/><circle cx="635.2" cy="656.5" r="6.2"/><circle cx="646.9" cy="656.5" r="6.2"/><circle cx="679.1" cy="660.1" r="6.2"/><circle cx="658.6" cy="664.7" r="6.2"/><circle cx="639.3" cy="666.5" r="6.2"/><circle cx="669.1" cy="675.8" r="6.2"/><circle cx="682.0" cy="678.2" r="6.2"/><circle cx="688.4" cy="672.9" r="6.2"/><circle cx="646.3" cy="689.3" r="6.2"/><circle cx="687.8" cy="689.9" r="6.2"/><circle cx="673.8" cy="694.0" r="6.2"/><circle cx="638.1" cy="696.3" r="6.2"/><circle cx="658.6" cy="695.1" r="6.2"/><circle cx="646.9" cy="691.2" r="6.2"/><circle cx="638.1" cy="699.4" r="6.2"/><circle cx="657.4" cy="697.0" r="6.2"/><circle cx="674.4" cy="694.7" r="6.2"/><circle cx="689.0" cy="692.3" r="6.2"/><circle cx="689.0" cy="698.2" r="6.2"/><circle cx="646.9" cy="706.4" r="6.2"/><circle cx="663.9" cy="706.4" r="6.2"/><circle cx="636.4" cy="714.0" r="6.2"/><circle cx="686.7" cy="711.6" r="6.2"/><circle cx="683.2" cy="718.7" r="6.2"/><circle cx="654.5" cy="722.7" r="6.2"/><circle cx="669.1" cy="722.7" r="6.2"/><circle cx="634.0" cy="727.4" r="6.2"/><circle cx="641.1" cy="739.1" r="6.2"/><circle cx="653.9" cy="741.5" r="6.2"/><circle cx="666.8" cy="740.3" r="6.2"/><circle cx="642.8" cy="746.7" r="6.2"/><circle cx="676.1" cy="746.1" r="6.2"/><circle cx="635.2" cy="755.5" r="6.2"/><circle cx="657.4" cy="754.3" r="6.2"/><circle cx="668.0" cy="759.6" r="6.2"/><circle cx="679.1" cy="753.2" r="6.2"/><circle cx="645.7" cy="766.6" r="6.2"/><circle cx="636.4" cy="768.4" r="6.2"/><circle cx="655.1" cy="767.2" r="6.2"/><circle cx="672.0" cy="773.0" r="6.2"/><circle cx="680.8" cy="769.5" r="6.2"/><circle cx="691.9" cy="774.2" r="6.2"/><circle cx="645.7" cy="780.1" r="6.2"/><circle cx="660.9" cy="776.5" r="6.2"/><circle cx="637.5" cy="788.2" r="6.2"/><circle cx="660.9" cy="790.6" r="6.2"/><circle cx="683.2" cy="791.2" r="6.2"/><circle cx="696.0" cy="787.1" r="6.2"/><circle cx="634.0" cy="798.2" r="6.2"/><circle cx="641.1" cy="798.2" r="6.2"/><circle cx="651.6" cy="804.6" r="6.2"/><circle cx="674.4" cy="804.0" r="6.2"/><circle cx="690.2" cy="802.3" r="6.2"/><circle cx="637.5" cy="812.2" r="6.2"/><circle cx="645.7" cy="816.3" r="6.2"/><circle cx="663.9" cy="816.3" r="6.2"/><circle cx="684.9" cy="813.4" r="6.2"/><circle cx="636.4" cy="812.3" r="6.2"/><circle cx="645.1" cy="817.6" r="6.2"/><circle cx="663.9" cy="817.6" r="6.2"/><circle cx="684.9" cy="813.5" r="6.2"/><circle cx="676.1" cy="817.0" r="6.2"/><circle cx="639.3" cy="829.9" r="6.2"/><circle cx="655.1" cy="821.7" r="6.2"/><circle cx="678.5" cy="826.4" r="6.2"/><circle cx="691.3" cy="828.1" r="6.2"/><circle cx="649.2" cy="831.1" r="6.2"/><circle cx="657.4" cy="836.9" r="6.2"/><circle cx="636.4" cy="841.6" r="6.2"/><circle cx="671.5" cy="839.8" r="6.2"/><circle cx="680.8" cy="843.3" r="6.2"/><circle cx="690.8" cy="836.9" r="6.2"/><circle cx="696.6" cy="845.1" r="6.2"/><circle cx="651.6" cy="847.4" r="6.2"/><circle cx="662.7" cy="849.8" r="6.2"/><circle cx="672.6" cy="854.4" r="6.2"/><circle cx="687.8" cy="855.6" r="6.2"/><circle cx="663.3" cy="860.3" r="6.2"/><circle cx="673.8" cy="862.6" r="6.2"/><circle cx="686.1" cy="867.3" r="6.2"/><circle cx="693.7" cy="866.7" r="6.2"/><circle cx="649.8" cy="864.4" r="6.2"/><circle cx="634.0" cy="869.6" r="6.2"/><circle cx="656.3" cy="870.2" r="6.2"/><circle cx="644.6" cy="880.2" r="6.2"/><circle cx="672.0" cy="876.1" r="6.2"/><circle cx="682.0" cy="886.6" r="6.2"/><circle cx="673.2" cy="889.5" r="6.2"/><circle cx="677.3" cy="892.5" r="6.2"/><circle cx="696.0" cy="884.3" r="6.2"/><circle cx="667.4" cy="900.1" r="6.2"/><circle cx="666.8" cy="918.2" r="6.2"/><circle cx="684.9" cy="915.3" r="6.2"/><circle cx="714.3" cy="610.8" r="6.2"/><circle cx="715.9" cy="619.7" r="6.2"/><circle cx="717.5" cy="628.6" r="6.2"/><circle cx="720.0" cy="639.1" r="6.2"/><circle cx="701.3" cy="640.7" r="6.2"/><circle cx="707.8" cy="643.2" r="6.2"/><circle cx="718.3" cy="651.3" r="6.2"/><circle cx="699.7" cy="656.1" r="6.2"/><circle cx="709.4" cy="659.4" r="6.2"/><circle cx="724.0" cy="663.4" r="6.2"/><circle cx="710.2" cy="670.7" r="6.2"/><circle cx="703.8" cy="681.2" r="6.2"/><circle cx="715.9" cy="685.3" r="6.2"/><circle cx="709.4" cy="692.5" r="6.2"/><circle cx="714.3" cy="699.0" r="6.2"/><circle cx="726.4" cy="695.0" r="6.2"/><circle cx="709.4" cy="710.4" r="6.2"/><circle cx="731.3" cy="709.6" r="6.2"/><circle cx="706.2" cy="723.3" r="6.2"/><circle cx="715.9" cy="727.4" r="6.2"/><circle cx="731.3" cy="724.9" r="6.2"/><circle cx="704.6" cy="732.2" r="6.2"/><circle cx="706.2" cy="741.1" r="6.2"/><circle cx="715.9" cy="737.9" r="6.2"/><circle cx="727.2" cy="741.1" r="6.2"/><circle cx="756.4" cy="739.5" r="6.2"/><circle cx="694.0" cy="751.7" r="6.2"/><circle cx="693.7" cy="750.8" r="6.2"/><circle cx="696.6" cy="759.0" r="6.2"/><circle cx="750.7" cy="765.9" r="6.2"/><circle cx="765.5" cy="763.9" r="6.2"/><circle cx="769.5" cy="770.4" r="6.2"/><circle cx="744.7" cy="775.4" r="6.2"/><circle cx="749.7" cy="782.3" r="6.2"/><circle cx="722.0" cy="774.4" r="6.2"/><circle cx="725.9" cy="783.3" r="6.2"/><circle cx="773.4" cy="791.2" r="6.2"/><circle cx="739.8" cy="792.8" r="6.2"/><circle cx="730.9" cy="796.2" r="6.2"/><circle cx="729.9" cy="806.1" r="6.2"/><circle cx="734.8" cy="816.5" r="6.2"/><circle cx="722.0" cy="822.9" r="6.2"/><circle cx="745.7" cy="828.4" r="6.2"/><circle cx="765.5" cy="828.8" r="6.2"/><circle cx="805.1" cy="818.9" r="6.2"/><circle cx="724.0" cy="837.7" r="6.2"/><circle cx="732.9" cy="842.3" r="6.2"/><circle cx="722.0" cy="856.5" r="6.2"/><circle cx="772.4" cy="846.6" r="6.2"/><circle cx="808.0" cy="841.1" r="6.2"/><circle cx="826.8" cy="840.7" r="6.2"/><circle cx="831.8" cy="849.6" r="6.2"/><circle cx="804.7" cy="859.5" r="6.2"/><circle cx="841.7" cy="870.7" r="6.2"/><circle cx="852.1" cy="875.3" r="6.2"/><circle cx="860.5" cy="885.2" r="6.2"/><circle cx="856.5" cy="899.0" r="6.2"/><circle cx="839.7" cy="906.0" r="6.2"/><circle cx="894.1" cy="898.0" r="6.2"/><circle cx="881.2" cy="907.9" r="6.2"/><circle cx="887.8" cy="911.5" r="6.2"/><circle cx="910.9" cy="918.8" r="6.2"/><circle cx="725.9" cy="886.2" r="6.2"/><circle cx="738.8" cy="881.2" r="6.2"/><circle cx="740.8" cy="896.1" r="6.2"/><circle cx="753.6" cy="898.0" r="6.2"/><circle cx="792.2" cy="884.6" r="6.2"/><circle cx="773.4" cy="920.2" r="6.2"/><circle cx="769.5" cy="926.7" r="6.2"/><circle cx="863.4" cy="930.7" r="6.2"/><circle cx="871.3" cy="927.7" r="6.2"/><circle cx="894.3" cy="942.7" r="6.2"/><circle cx="866.6" cy="952.3" r="6.2"/><circle cx="721.0" cy="907.9" r="6.2"/><circle cx="720.0" cy="774.2" r="6.2"/><circle cx="725.8" cy="783.6" r="6.2"/><circle cx="738.1" cy="776.0" r="6.2"/><circle cx="737.5" cy="792.9" r="6.2"/><circle cx="731.1" cy="795.3" r="6.2"/><circle cx="710.1" cy="798.8" r="6.2"/><circle cx="710.6" cy="802.3" r="6.2"/><circle cx="729.9" cy="805.8" r="6.2"/><circle cx="734.6" cy="814.0" r="6.2"/><circle cx="719.4" cy="818.7" r="6.2"/><circle cx="720.6" cy="823.5" r="6.2"/><circle cx="715.9" cy="826.4" r="6.2"/><circle cx="723.5" cy="837.5" r="6.2"/><circle cx="733.5" cy="842.2" r="6.2"/><circle cx="715.9" cy="844.5" r="6.2"/><circle cx="719.4" cy="858.0" r="6.2"/><circle cx="718.8" cy="862.6" r="6.2"/><circle cx="734.0" cy="816.4" r="6.2"/><circle cx="713.0" cy="890.1" r="6.2"/><circle cx="726.4" cy="886.6" r="6.2"/><circle cx="737.0" cy="880.8" r="6.2"/><circle cx="737.5" cy="896.0" r="6.2"/><circle cx="715.9" cy="907.7" r="6.2"/><circle cx="709.5" cy="692.3" r="6.2"/><circle cx="713.6" cy="699.4" r="6.2"/><circle cx="726.4" cy="694.7" r="6.2"/><circle cx="709.5" cy="710.5" r="6.2"/><circle cx="731.7" cy="709.9" r="6.2"/><circle cx="706.5" cy="723.3" r="6.2"/><circle cx="716.5" cy="727.4" r="6.2"/><circle cx="731.7" cy="724.5" r="6.2"/><circle cx="704.2" cy="732.1" r="6.2"/><circle cx="706.5" cy="740.3" r="6.2"/><circle cx="717.1" cy="738.0" r="6.2"/><circle cx="727.6" cy="740.9" r="6.2"/><circle cx="632.4" cy="1011.0" r="6.2"/></g>
<g fill="#0b8a0b" stroke="#000" stroke-width="4.0"><circle cx="1102.1" cy="589.1" r="6.0"/><circle cx="1108.1" cy="591.3" r="6.0"/><circle cx="1102.1" cy="597.9" r="6.0"/><circle cx="1107.9" cy="599.3" r="6.0"/><circle cx="1100.7" cy="607.2" r="6.0"/><circle cx="1109.3" cy="607.0" r="6.0"/><circle cx="1100.2" cy="614.9" r="6.0"/><circle cx="1108.3" cy="613.7" r="6.0"/><circle cx="1101.8" cy="623.0" r="6.0"/><circle cx="1108.2" cy="621.2" r="6.0"/><circle cx="1100.8" cy="630.1" r="6.0"/><circle cx="1108.7" cy="628.9" r="6.0"/><circle cx="1100.4" cy="638.7" r="6.0"/><circle cx="1110.0" cy="636.6" r="6.0"/><circle cx="1101.1" cy="646.8" r="6.0"/><circle cx="1107.9" cy="647.0" r="6.0"/><circle cx="1116.1" cy="646.3" r="6.0"/><circle cx="1101.1" cy="654.4" r="6.0"/><circle cx="1108.5" cy="653.8" r="6.0"/><circle cx="1117.2" cy="653.8" r="6.0"/><circle cx="1101.4" cy="661.8" r="6.0"/><circle cx="1108.9" cy="660.6" r="6.0"/><circle cx="1117.3" cy="662.0" r="6.0"/><circle cx="1100.4" cy="670.8" r="6.0"/><circle cx="1109.7" cy="669.9" r="6.0"/><circle cx="1116.2" cy="669.9" r="6.0"/><circle cx="1100.1" cy="676.9" r="6.0"/><circle cx="1108.8" cy="676.8" r="6.0"/><circle cx="1116.9" cy="678.0" r="6.0"/><circle cx="1099.9" cy="686.4" r="6.0"/><circle cx="1108.0" cy="686.7" r="6.0"/><circle cx="1117.7" cy="686.0" r="6.0"/><circle cx="1099.9" cy="694.0" r="6.0"/><circle cx="1108.7" cy="695.4" r="6.0"/><circle cx="1116.1" cy="695.1" r="6.0"/><circle cx="1102.2" cy="702.7" r="6.0"/><circle cx="1109.8" cy="701.1" r="6.0"/><circle cx="1118.2" cy="702.0" r="6.0"/><circle cx="1102.1" cy="711.2" r="6.0"/><circle cx="1108.2" cy="710.9" r="6.0"/><circle cx="1118.0" cy="708.7" r="6.0"/><circle cx="1100.6" cy="718.8" r="6.0"/><circle cx="1108.2" cy="719.2" r="6.0"/><circle cx="1116.5" cy="718.9" r="6.0"/><circle cx="1100.1" cy="726.0" r="6.0"/><circle cx="1110.0" cy="725.1" r="6.0"/><circle cx="1116.4" cy="726.0" r="6.0"/><circle cx="1100.6" cy="732.6" r="6.0"/><circle cx="1108.2" cy="733.0" r="6.0"/><circle cx="1118.0" cy="734.5" r="6.0"/><circle cx="1101.9" cy="741.0" r="6.0"/><circle cx="1109.7" cy="740.8" r="6.0"/><circle cx="1117.1" cy="742.4" r="6.0"/><circle cx="1100.7" cy="751.1" r="6.0"/><circle cx="1109.1" cy="750.2" r="6.0"/><circle cx="1117.9" cy="748.8" r="6.0"/><circle cx="1102.2" cy="758.4" r="6.0"/><circle cx="1108.7" cy="758.9" r="6.0"/><circle cx="1116.4" cy="759.5" r="6.0"/><circle cx="1105.2" cy="765.6" r="6.0"/><circle cx="1113.6" cy="765.8" r="6.0"/><circle cx="1120.2" cy="766.7" r="6.0"/><circle cx="1127.9" cy="767.0" r="6.0"/><circle cx="1104.4" cy="774.4" r="6.0"/><circle cx="1114.2" cy="774.3" r="6.0"/><circle cx="1121.4" cy="773.4" r="6.0"/><circle cx="1127.8" cy="772.6" r="6.0"/><circle cx="1104.2" cy="782.3" r="6.0"/><circle cx="1112.8" cy="782.0" r="6.0"/><circle cx="1121.9" cy="780.9" r="6.0"/><circle cx="1128.3" cy="782.5" r="6.0"/><circle cx="1103.9" cy="788.5" r="6.0"/><circle cx="1112.7" cy="788.8" r="6.0"/><circle cx="1120.7" cy="789.2" r="6.0"/><circle cx="1129.2" cy="790.3" r="6.0"/><circle cx="1104.3" cy="798.4" r="6.0"/><circle cx="1112.9" cy="796.9" r="6.0"/><circle cx="1122.0" cy="797.2" r="6.0"/><circle cx="1128.2" cy="796.8" r="6.0"/><circle cx="1112.3" cy="807.1" r="6.0"/><circle cx="1120.7" cy="805.7" r="6.0"/><circle cx="1127.4" cy="804.5" r="6.0"/><circle cx="1136.3" cy="806.2" r="6.0"/><circle cx="1111.6" cy="814.4" r="6.0"/><circle cx="1119.9" cy="815.3" r="6.0"/><circle cx="1128.6" cy="813.2" r="6.0"/><circle cx="1137.0" cy="812.6" r="6.0"/><circle cx="1112.1" cy="821.7" r="6.0"/><circle cx="1119.4" cy="820.7" r="6.0"/><circle cx="1128.7" cy="820.5" r="6.0"/><circle cx="1136.1" cy="823.3" r="6.0"/><circle cx="1121.1" cy="829.1" r="6.0"/><circle cx="1130.3" cy="830.0" r="6.0"/><circle cx="1138.3" cy="830.9" r="6.0"/><circle cx="1145.2" cy="829.4" r="6.0"/><circle cx="1121.5" cy="836.6" r="6.0"/><circle cx="1130.9" cy="838.8" r="6.0"/><circle cx="1138.5" cy="836.5" r="6.0"/><circle cx="1146.8" cy="838.7" r="6.0"/><circle cx="1121.9" cy="846.7" r="6.0"/><circle cx="1129.9" cy="845.2" r="6.0"/><circle cx="1137.1" cy="845.2" r="6.0"/><circle cx="1144.9" cy="845.5" r="6.0"/><circle cx="1122.6" cy="854.6" r="6.0"/><circle cx="1130.8" cy="854.6" r="6.0"/><circle cx="1137.4" cy="854.2" r="6.0"/><circle cx="1145.8" cy="854.9" r="6.0"/><circle cx="1122.1" cy="861.3" r="6.0"/><circle cx="1130.3" cy="863.4" r="6.0"/><circle cx="1137.3" cy="863.1" r="6.0"/><circle cx="1144.8" cy="861.3" r="6.0"/><circle cx="1133.4" cy="870.7" r="6.0"/><circle cx="1143.1" cy="870.7" r="6.0"/><circle cx="1149.6" cy="871.1" r="6.0"/><circle cx="1157.6" cy="869.2" r="6.0"/><circle cx="1135.0" cy="878.4" r="6.0"/><circle cx="1142.5" cy="878.5" r="6.0"/><circle cx="1151.1" cy="877.9" r="6.0"/><circle cx="1158.8" cy="878.6" r="6.0"/></g>
<g fill="#0b8a0b" stroke="#000" stroke-width="2.6"><circle cx="1100.4" cy="586.4" r="6.2"/><circle cx="1106.0" cy="586.4" r="6.2"/><circle cx="1114.2" cy="585.2" r="6.2"/><circle cx="1121.8" cy="589.9" r="6.2"/><circle cx="1111.9" cy="593.4" r="6.2"/><circle cx="1107.8" cy="601.6" r="6.2"/><circle cx="1107.8" cy="610.9" r="6.2"/><circle cx="1117.7" cy="614.4" r="6.2"/><circle cx="1101.5" cy="614.4" r="6.2"/><circle cx="1110.1" cy="622.6" r="6.2"/><circle cx="1120.1" cy="627.3" r="6.2"/><circle cx="1100.4" cy="628.4" r="6.2"/><circle cx="1113.1" cy="639.0" r="6.2"/><circle cx="1103.9" cy="642.5" r="6.2"/><circle cx="1120.1" cy="639.0" r="6.2"/><circle cx="1110.1" cy="650.7" r="6.2"/><circle cx="1124.2" cy="652.4" r="6.2"/><circle cx="1101.5" cy="656.5" r="6.2"/><circle cx="1111.9" cy="664.7" r="6.2"/><circle cx="1104.5" cy="671.1" r="6.2"/><circle cx="1123.6" cy="676.4" r="6.2"/><circle cx="1111.3" cy="675.2" r="6.2"/><circle cx="1116.6" cy="684.0" r="6.2"/><circle cx="1101.5" cy="686.9" r="6.2"/><circle cx="1106.6" cy="690.4" r="6.2"/><circle cx="1130.0" cy="692.7" r="6.2"/><circle cx="1117.1" cy="696.2" r="6.2"/><circle cx="1107.2" cy="692.3" r="6.2"/><circle cx="1116.6" cy="697.0" r="6.2"/><circle cx="1130.6" cy="693.5" r="6.2"/><circle cx="1105.0" cy="707.0" r="6.2"/><circle cx="1111.9" cy="704.6" r="6.2"/><circle cx="1121.2" cy="706.4" r="6.2"/><circle cx="1110.7" cy="714.5" r="6.2"/><circle cx="1102.7" cy="714.5" r="6.2"/><circle cx="1128.2" cy="720.4" r="6.2"/><circle cx="1105.0" cy="727.4" r="6.2"/><circle cx="1114.2" cy="727.4" r="6.2"/><circle cx="1119.5" cy="734.4" r="6.2"/><circle cx="1108.4" cy="735.6" r="6.2"/><circle cx="1124.7" cy="741.4" r="6.2"/><circle cx="1120.1" cy="747.9" r="6.2"/><circle cx="1104.5" cy="753.1" r="6.2"/><circle cx="1132.9" cy="752.0" r="6.2"/><circle cx="1118.9" cy="762.5" r="6.2"/><circle cx="1128.8" cy="763.6" r="6.2"/><circle cx="1137.0" cy="767.1" r="6.2"/><circle cx="1106.0" cy="767.1" r="6.2"/><circle cx="1113.6" cy="773.0" r="6.2"/><circle cx="1138.8" cy="780.0" r="6.2"/><circle cx="1104.5" cy="784.1" r="6.2"/><circle cx="1118.3" cy="786.4" r="6.2"/><circle cx="1131.8" cy="790.5" r="6.2"/><circle cx="1123.6" cy="794.6" r="6.2"/><circle cx="1140.5" cy="794.0" r="6.2"/><circle cx="1107.8" cy="800.5" r="6.2"/><circle cx="1125.9" cy="803.4" r="6.2"/><circle cx="1139.9" cy="804.6" r="6.2"/><circle cx="1114.2" cy="816.2" r="6.2"/><circle cx="1131.8" cy="815.7" r="6.2"/><circle cx="1143.4" cy="816.2" r="6.2"/><circle cx="1148.1" cy="812.7" r="6.2"/><circle cx="1114.1" cy="818.4" r="6.2"/><circle cx="1131.6" cy="816.9" r="6.2"/><circle cx="1140.8" cy="817.6" r="6.2"/><circle cx="1148.5" cy="816.9" r="6.2"/><circle cx="1127.1" cy="824.5" r="6.2"/><circle cx="1150.8" cy="829.9" r="6.2"/><circle cx="1121.7" cy="831.4" r="6.2"/><circle cx="1133.9" cy="836.0" r="6.2"/><circle cx="1127.1" cy="841.4" r="6.2"/><circle cx="1156.1" cy="844.4" r="6.2"/><circle cx="1120.2" cy="845.9" r="6.2"/><circle cx="1137.8" cy="846.7" r="6.2"/><circle cx="1159.2" cy="853.6" r="6.2"/><circle cx="1123.2" cy="855.9" r="6.2"/><circle cx="1143.1" cy="854.4" r="6.2"/><circle cx="1141.6" cy="862.8" r="6.2"/><circle cx="1154.6" cy="864.3" r="6.2"/><circle cx="1164.5" cy="868.9" r="6.2"/><circle cx="1119.4" cy="867.4" r="6.2"/><circle cx="1128.6" cy="872.7" r="6.2"/><circle cx="1124.8" cy="875.8" r="6.2"/><circle cx="1140.8" cy="878.1" r="6.2"/><circle cx="1156.9" cy="881.9" r="6.2"/><circle cx="1149.2" cy="886.5" r="6.2"/><circle cx="1167.6" cy="886.5" r="6.2"/><circle cx="1140.8" cy="892.6" r="6.2"/><circle cx="1166.8" cy="893.4" r="6.2"/><circle cx="1175.2" cy="896.4" r="6.2"/><circle cx="1134.0" cy="898.0" r="6.2"/><circle cx="1157.7" cy="898.7" r="6.2"/><circle cx="1170.7" cy="904.1" r="6.2"/><circle cx="1179.8" cy="909.4" r="6.2"/><circle cx="1180.6" cy="912.5" r="6.2"/><circle cx="1173.0" cy="947.3" r="6.2"/><circle cx="1186.0" cy="962.2" r="6.2"/><circle cx="1347.5" cy="984.8" r="6.2"/><circle cx="1354.6" cy="984.2" r="6.2"/><circle cx="1362.4" cy="982.4" r="6.2"/><circle cx="1370.2" cy="982.4" r="6.2"/><circle cx="1386.9" cy="983.0" r="6.2"/><circle cx="1400.0" cy="984.2" r="6.2"/><circle cx="1414.3" cy="986.0" r="6.2"/><circle cx="1419.1" cy="986.0" r="6.2"/><circle cx="1452.6" cy="989.0" r="6.2"/><circle cx="1459.7" cy="986.6" r="6.2"/><circle cx="1477.6" cy="989.9" r="6.2"/><circle cx="1486.0" cy="989.9" r="6.2"/></g>
<g stroke="#3040a8" stroke-width="4.6" stroke-linecap="butt"><line x1="211.2" y1="502.5" x2="542.3" y2="336.4"/><line x1="661.0" y1="502.5" x2="1014.7" y2="417.8"/><line x1="1106.0" y1="502.3" x2="1485.4" y2="323.0"/><line x1="165.5" y1="589.0" x2="542.1" y2="836.4"/><line x1="631.5" y1="669.0" x2="911.9" y2="909.9"/><line x1="1100.5" y1="629.0" x2="1359.4" y2="1012.0"/></g>
<path d="M190.2 501.9V487.9M190.2 76.6V90.6M218.0 501.9V474.4M218.0 76.6V104.1M245.9 501.9V487.9M245.9 76.6V90.6M273.8 501.9V474.4M273.8 76.6V104.1M301.7 501.9V487.9M301.7 76.6V90.6M329.5 501.9V474.4M329.5 76.6V104.1M357.4 501.9V487.9M357.4 76.6V90.6M385.3 501.9V474.4M385.3 76.6V104.1M413.1 501.9V487.9M413.1 76.6V90.6M441.0 501.9V474.4M441.0 76.6V104.1M468.9 501.9V487.9M468.9 76.6V90.6M496.8 501.9V474.4M496.8 76.6V104.1M524.6 501.9V487.9M524.6 76.6V90.6M162.3 431.0H176.3M552.5 431.0H538.5M162.3 360.1H189.8M552.5 360.1H525.0M162.3 289.2H176.3M552.5 289.2H538.5M162.3 218.4H189.8M552.5 218.4H525.0M162.3 147.5H176.3M552.5 147.5H538.5" stroke="#000" stroke-width="2.4" fill="none"/><rect x="162.3" y="76.6" width="390.2" height="425.3" fill="none" stroke="#000" stroke-width="2.4"/><path d="M674.8 501.9V487.9M674.8 76.6V90.6M719.1 501.9V474.4M719.1 76.6V104.1M763.4 501.9V487.9M763.4 76.6V90.6M807.7 501.9V474.4M807.7 76.6V104.1M852.0 501.9V487.9M852.0 76.6V90.6M896.3 501.9V474.4M896.3 76.6V104.1M940.6 501.9V487.9M940.6 76.6V90.6M984.9 501.9V474.4M984.9 76.6V104.1M630.5 431.0H644.5M1020.3 431.0H1006.3M630.5 360.1H658.0M1020.3 360.1H992.8M630.5 289.2H644.5M1020.3 289.2H1006.3M630.5 218.4H658.0M1020.3 218.4H992.8M630.5 147.5H644.5M1020.3 147.5H1006.3" stroke="#000" stroke-width="2.4" fill="none"/><rect x="630.5" y="76.6" width="389.8" height="425.3" fill="none" stroke="#000" stroke-width="2.4"/><path d="M1154.2 501.9V487.9M1154.2 76.6V90.6M1210.0 501.9V474.4M1210.0 76.6V104.1M1265.8 501.9V487.9M1265.8 76.6V90.6M1321.5 501.9V474.4M1321.5 76.6V104.1M1377.3 501.9V487.9M1377.3 76.6V90.6M1433.1 501.9V474.4M1433.1 76.6V104.1M1098.4 431.0H1112.4M1488.9 431.0H1474.9M1098.4 360.1H1125.9M1488.9 360.1H1461.4M1098.4 289.2H1112.4M1488.9 289.2H1474.9M1098.4 218.4H1125.9M1488.9 218.4H1461.4M1098.4 147.5H1112.4M1488.9 147.5H1474.9" stroke="#000" stroke-width="2.4" fill="none"/><rect x="1098.4" y="76.6" width="390.5" height="425.3" fill="none" stroke="#000" stroke-width="2.4"/><path d="M190.2 1011.6V997.6M190.2 586.2V600.2M218.0 1011.6V984.1M218.0 586.2V613.7M245.9 1011.6V997.6M245.9 586.2V600.2M273.8 1011.6V984.1M273.8 586.2V613.7M301.7 1011.6V997.6M301.7 586.2V600.2M329.5 1011.6V984.1M329.5 586.2V613.7M357.4 1011.6V997.6M357.4 586.2V600.2M385.3 1011.6V984.1M385.3 586.2V613.7M413.1 1011.6V997.6M413.1 586.2V600.2M441.0 1011.6V984.1M441.0 586.2V613.7M468.9 1011.6V997.6M468.9 586.2V600.2M496.8 1011.6V984.1M496.8 586.2V613.7M524.6 1011.6V997.6M524.6 586.2V600.2M162.3 969.1H176.3M552.5 969.1H538.5M162.3 926.5H189.8M552.5 926.5H525.0M162.3 884.0H176.3M552.5 884.0H538.5M162.3 841.4H189.8M552.5 841.4H525.0M162.3 798.9H176.3M552.5 798.9H538.5M162.3 756.4H189.8M552.5 756.4H525.0M162.3 713.8H176.3M552.5 713.8H538.5M162.3 671.3H189.8M552.5 671.3H525.0M162.3 628.7H176.3M552.5 628.7H538.5" stroke="#000" stroke-width="2.4" fill="none"/><rect x="162.3" y="586.2" width="390.2" height="425.4" fill="none" stroke="#000" stroke-width="2.4"/><path d="M663.0 1011.6V997.6M663.0 586.2V600.2M695.5 1011.6V984.1M695.5 586.2V613.7M728.0 1011.6V997.6M728.0 586.2V600.2M760.4 1011.6V984.1M760.4 586.2V613.7M792.9 1011.6V997.6M792.9 586.2V600.2M825.4 1011.6V984.1M825.4 586.2V613.7M857.9 1011.6V997.6M857.9 586.2V600.2M890.4 1011.6V984.1M890.4 586.2V613.7M922.8 1011.6V997.6M922.8 586.2V600.2M955.3 1011.6V984.1M955.3 586.2V613.7M987.8 1011.6V997.6M987.8 586.2V600.2M630.5 969.1H644.5M1020.3 969.1H1006.3M630.5 926.5H658.0M1020.3 926.5H992.8M630.5 884.0H644.5M1020.3 884.0H1006.3M630.5 841.4H658.0M1020.3 841.4H992.8M630.5 798.9H644.5M1020.3 798.9H1006.3M630.5 756.4H658.0M1020.3 756.4H992.8M630.5 713.8H644.5M1020.3 713.8H1006.3M630.5 671.3H658.0M1020.3 671.3H992.8M630.5 628.7H644.5M1020.3 628.7H1006.3" stroke="#000" stroke-width="2.4" fill="none"/><rect x="630.5" y="586.2" width="389.8" height="425.4" fill="none" stroke="#000" stroke-width="2.4"/><path d="M1154.2 1011.6V997.6M1154.2 586.2V600.2M1210.0 1011.6V984.1M1210.0 586.2V613.7M1265.8 1011.6V997.6M1265.8 586.2V600.2M1321.5 1011.6V984.1M1321.5 586.2V613.7M1377.3 1011.6V997.6M1377.3 586.2V600.2M1433.1 1011.6V984.1M1433.1 586.2V613.7M1098.4 969.1H1112.4M1488.9 969.1H1474.9M1098.4 926.5H1125.9M1488.9 926.5H1461.4M1098.4 884.0H1112.4M1488.9 884.0H1474.9M1098.4 841.4H1125.9M1488.9 841.4H1461.4M1098.4 798.9H1112.4M1488.9 798.9H1474.9M1098.4 756.4H1125.9M1488.9 756.4H1461.4M1098.4 713.8H1112.4M1488.9 713.8H1474.9M1098.4 671.3H1125.9M1488.9 671.3H1461.4M1098.4 628.7H1112.4M1488.9 628.7H1474.9" stroke="#000" stroke-width="2.4" fill="none"/><rect x="1098.4" y="586.2" width="390.5" height="425.4" fill="none" stroke="#000" stroke-width="2.4"/>
<g font-family="Liberation Serif, serif" fill="#000"><text transform="translate(150.1 516.2) scale(0.930 1)" text-anchor="end" font-size="39.5">0</text><text transform="translate(150.1 374.4) scale(0.930 1)" text-anchor="end" font-size="39.5">0.05</text><text transform="translate(150.1 232.7) scale(0.930 1)" text-anchor="end" font-size="39.5">0.1</text><text transform="translate(150.1 1025.9) scale(0.930 1)" text-anchor="end" font-size="39.5">0</text><text transform="translate(150.1 940.8) scale(0.930 1)" text-anchor="end" font-size="39.5">0.2</text><text transform="translate(150.1 855.7) scale(0.930 1)" text-anchor="end" font-size="39.5">0.4</text><text transform="translate(150.1 770.7) scale(0.930 1)" text-anchor="end" font-size="39.5">0.6</text><text transform="translate(150.1 685.6) scale(0.930 1)" text-anchor="end" font-size="39.5">0.8</text><text transform="translate(150.1 600.5) scale(0.930 1)" text-anchor="end" font-size="39.5">1</text><text transform="translate(618.3 516.2) scale(0.930 1)" text-anchor="end" font-size="39.5">0</text><text transform="translate(618.3 374.4) scale(0.930 1)" text-anchor="end" font-size="39.5">0.05</text><text transform="translate(618.3 232.7) scale(0.930 1)" text-anchor="end" font-size="39.5">0.1</text><text transform="translate(618.3 1025.9) scale(0.930 1)" text-anchor="end" font-size="39.5">0</text><text transform="translate(618.3 940.8) scale(0.930 1)" text-anchor="end" font-size="39.5">0.2</text><text transform="translate(618.3 855.7) scale(0.930 1)" text-anchor="end" font-size="39.5">0.4</text><text transform="translate(618.3 770.7) scale(0.930 1)" text-anchor="end" font-size="39.5">0.6</text><text transform="translate(618.3 685.6) scale(0.930 1)" text-anchor="end" font-size="39.5">0.8</text><text transform="translate(618.3 600.5) scale(0.930 1)" text-anchor="end" font-size="39.5">1</text><text transform="translate(1086.2 516.2) scale(0.930 1)" text-anchor="end" font-size="39.5">0</text><text transform="translate(1086.2 374.4) scale(0.930 1)" text-anchor="end" font-size="39.5">0.05</text><text transform="translate(1086.2 232.7) scale(0.930 1)" text-anchor="end" font-size="39.5">0.1</text><text transform="translate(1086.2 1025.9) scale(0.930 1)" text-anchor="end" font-size="39.5">0</text><text transform="translate(1086.2 940.8) scale(0.930 1)" text-anchor="end" font-size="39.5">0.2</text><text transform="translate(1086.2 855.7) scale(0.930 1)" text-anchor="end" font-size="39.5">0.4</text><text transform="translate(1086.2 770.7) scale(0.930 1)" text-anchor="end" font-size="39.5">0.6</text><text transform="translate(1086.2 685.6) scale(0.930 1)" text-anchor="end" font-size="39.5">0.8</text><text transform="translate(1086.2 600.5) scale(0.930 1)" text-anchor="end" font-size="39.5">1</text><text transform="translate(163.3 1051.2) scale(0.930 1)" text-anchor="middle" font-size="39.5">0</text><text transform="translate(219.0 1051.2) scale(0.930 1)" text-anchor="middle" font-size="39.5">10</text><text transform="translate(274.8 1051.2) scale(0.930 1)" text-anchor="middle" font-size="39.5">20</text><text transform="translate(330.5 1051.2) scale(0.930 1)" text-anchor="middle" font-size="39.5">30</text><text transform="translate(386.3 1051.2) scale(0.930 1)" text-anchor="middle" font-size="39.5">40</text><text transform="translate(442.0 1051.2) scale(0.930 1)" text-anchor="middle" font-size="39.5">50</text><text transform="translate(497.8 1051.2) scale(0.930 1)" text-anchor="middle" font-size="39.5">60</text><text transform="translate(553.5 1051.2) scale(0.930 1)" text-anchor="middle" font-size="39.5">70</text><text transform="translate(631.5 1051.2) scale(0.930 1)" text-anchor="middle" font-size="39.5">0</text><text transform="translate(696.5 1051.2) scale(0.930 1)" text-anchor="middle" font-size="39.5">50</text><text transform="translate(761.4 1051.2) scale(0.930 1)" text-anchor="middle" font-size="39.5">100</text><text transform="translate(826.4 1051.2) scale(0.930 1)" text-anchor="middle" font-size="39.5">150</text><text transform="translate(891.4 1051.2) scale(0.930 1)" text-anchor="middle" font-size="39.5">200</text><text transform="translate(956.3 1051.2) scale(0.930 1)" text-anchor="middle" font-size="39.5">250</text><text transform="translate(1021.3 1051.2) scale(0.930 1)" text-anchor="middle" font-size="39.5">300</text><text transform="translate(1099.4 1051.2) scale(0.930 1)" text-anchor="middle" font-size="39.5">0</text><text transform="translate(1211.0 1051.2) scale(0.930 1)" text-anchor="middle" font-size="39.5">200</text><text transform="translate(1322.5 1051.2) scale(0.930 1)" text-anchor="middle" font-size="39.5">400</text><text transform="translate(1434.1 1051.2) scale(0.930 1)" text-anchor="middle" font-size="39.5">600</text><text x="358.0" y="49.5" text-anchor="middle" font-size="46.5">Tibet</text><text x="826.3" y="39.5" text-anchor="middle" font-size="46.5">Ethiopia</text><text x="1295.0" y="49.6" text-anchor="middle" font-size="46.5">Andes</text><text transform="translate(357.9 1104.0) scale(1.030 1)" text-anchor="middle" font-size="55.0">k</text><text transform="translate(825.9 1104.0) scale(1.030 1)" text-anchor="middle" font-size="55.0">k</text><text transform="translate(1294.2 1104.0) scale(1.030 1)" text-anchor="middle" font-size="55.0">k</text><text transform="translate(49.5,320.6) rotate(-90) scale(1.09 1.035)" font-size="58" text-anchor="start">&#946;</text><text transform="translate(71.5,276.2) rotate(-90)" font-size="42" text-anchor="start">c</text><text transform="translate(90.5,799) rotate(-90)" font-size="56.5" text-anchor="middle">cc</text></g>
</svg></body></html>
